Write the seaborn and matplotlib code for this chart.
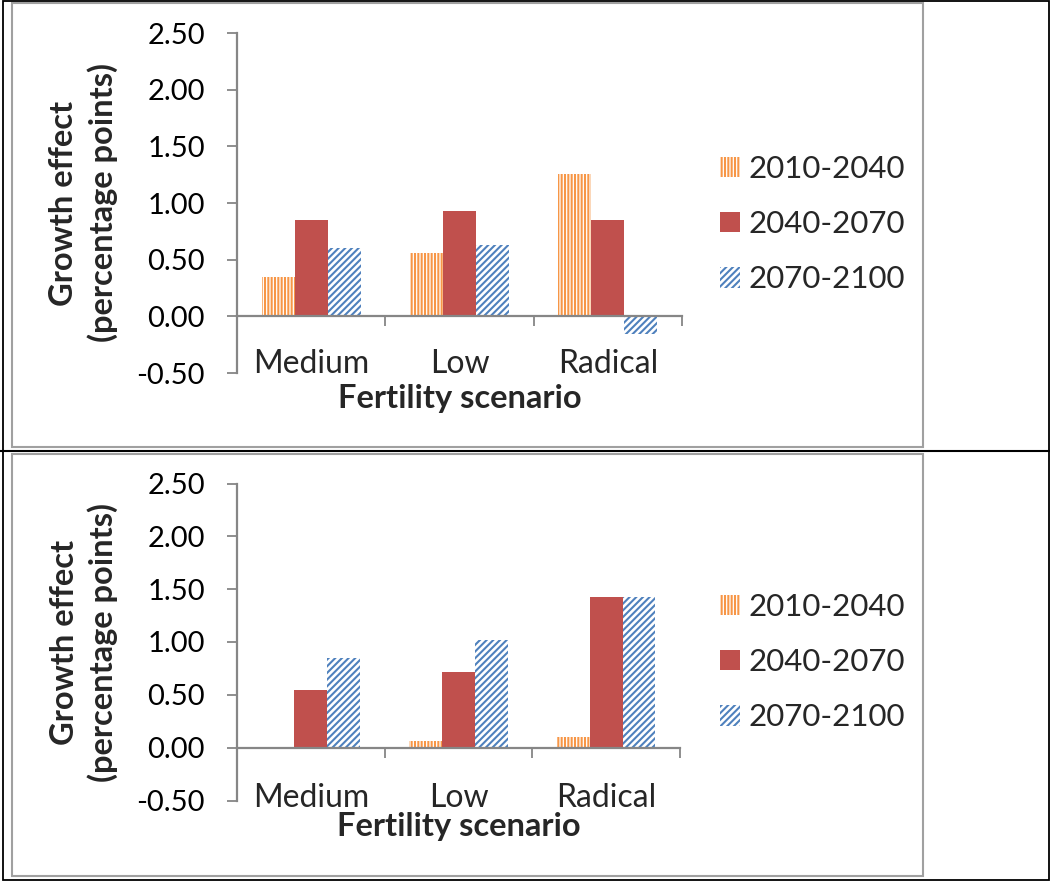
import numpy as np
import pandas as pd
import matplotlib
matplotlib.use("Agg")
import matplotlib.pyplot as plt
import seaborn as sns
from matplotlib.lines import Line2D
from matplotlib.patches import Rectangle

# ---------------- data ----------------
scenarios = ["Medium", "Low", "Radical"]
periods = ["2010-2040", "2040-2070", "2070-2100"]

top_2010_2040 = [0.35, 0.56, 1.26]
top_2040_2070 = [0.85, 0.93, 0.85]
top_2070_2100 = [0.60, 0.63, -0.16]

bot_2010_2040 = [0.01, 0.06, 0.10]
bot_2040_2070 = [0.55, 0.72, 1.43]
bot_2070_2100 = [0.85, 1.02, 1.43]

y_ticks = [-0.50, 0.00, 0.50, 1.00, 1.50, 2.00, 2.50]
y_label = "Growth effect\n(percentage points)"
x_label = "Fertility scenario"

colors = ["#F79646", "#C0504D", "#4F81BD"]
axis_gray = "#868686"

sns.set_style("white")
plt.rcParams["font.family"] = ["Lato", "DejaVu Sans"]
plt.rcParams["hatch.linewidth"] = 1.5

W, H = 1050, 881
fig = plt.figure(figsize=(W / 100, H / 100), dpi=100)


def make_df(a, b, c):
    rows = []
    for per, vals in zip(periods, [a, b, c]):
        for sc, v in zip(scenarios, vals):
            rows.append({"scenario": sc, "period": per, "value": v})
    return pd.DataFrame(rows)


def draw_panel(rect, df, tick_base, xlabel_base, legend_center):
    ax = fig.add_axes(rect)
    sns.barplot(data=df, x="scenario", y="value", hue="period",
                hue_order=periods, order=scenarios, palette=colors,
                saturation=1, width=0.667, gap=0, legend=False,
                errorbar=None, ax=ax)
    for i, cont in enumerate(ax.containers):
        for p in cont.patches:
            p.set_linewidth(0)
            if i == 0:
                p.set_facecolor("white")
                p.set_edgecolor(colors[0])
                p.set_hatch("|||||")
            elif i == 2:
                p.set_facecolor("white")
                p.set_edgecolor(colors[2])
                p.set_hatch("/////")
            else:
                p.set_facecolor(colors[1])
                p.set_edgecolor(colors[1])
    ax.set_xlim(-0.5, 2.5)
    ax.set_ylim(y_ticks[0], y_ticks[-1])
    ax.set_yticks(y_ticks)
    ax.set_yticklabels([f"{v:.2f}" for v in y_ticks])
    ax.set_xticks([-0.5, 0.5, 1.5, 2.5])
    ax.set_xticklabels([])
    ax.set_xlabel("")
    ax.set_ylabel(y_label, fontsize=23.5, fontweight="bold", linespacing=1.33,
                  ha="center", va="center")
    ax.yaxis.set_label_coords(-0.3450, 0.5)
    for s in ["top", "right"]:
        ax.spines[s].set_visible(False)
    ax.spines["left"].set_color(axis_gray)
    ax.spines["left"].set_linewidth(1.6)
    ax.spines["bottom"].set_color(axis_gray)
    ax.spines["bottom"].set_linewidth(1.6)
    ax.spines["bottom"].set_position(("data", 0))
    ax.tick_params(axis="both", direction="out", length=7.2, width=1.3,
                   color=axis_gray, labelsize=21, labelcolor="black")
    ax.tick_params(axis="y", pad=16)
    ax.xaxis.set_ticks_position("bottom")
    ax.yaxis.set_ticks_position("left")
    for i, sc in enumerate(scenarios):
        ax.text(i, tick_base, sc, transform=ax.get_xaxis_transform(),
                ha="center", va="baseline", fontsize=23)
    ax.text(0.5, xlabel_base, x_label, transform=ax.transAxes,
            ha="center", va="baseline", fontsize=23.5, fontweight="bold")
    ax.legend(handles=ax.containers, labels=periods, frameon=False,
              loc="center left", bbox_to_anchor=legend_center,
              bbox_transform=fig.transFigure, fontsize=22.5,
              handlelength=0.64, handleheight=0.64, handletextpad=0.28,
              labelspacing=0.87, borderpad=0, borderaxespad=0)
    return ax


draw_panel([237 / W, 1 - 373 / H, 445 / W, 340 / H],
           make_df(top_2010_2040, top_2040_2070, top_2070_2100),
           0.0, -0.103, (720 / W, 1 - 224 / H))
draw_panel([237 / W, 1 - 800.5 / H, 443 / W, 317 / H],
           make_df(bot_2010_2040, bot_2040_2070, bot_2070_2100),
           -0.0205, -0.112, (720 / W, 1 - 662 / H))


def px_rect(x0, y0, x1, y1, color, lw):
    fig.add_artist(Rectangle((x0 / W, 1 - y1 / H), (x1 - x0) / W, (y1 - y0) / H,
                             transform=fig.transFigure, fill=False,
                             edgecolor=color, linewidth=lw))


def px_line(x0, y0, x1, y1, color, lw):
    fig.add_artist(Line2D([x0 / W, x1 / W], [1 - y0 / H, 1 - y1 / H],
                          transform=fig.transFigure, color=color, linewidth=lw))


px_rect(12, 3, 922.5, 447, "#A0A0A0", 1.5)
px_rect(12, 453.5, 922.5, 875.5, "#A0A0A0", 1.5)
px_rect(2.5, 0.8, 1048.5, 879.5, "black", 1.3)
px_line(0, 451, W, 451, "black", 1.5)

fig.savefig("out.png", dpi=100, facecolor="white")
